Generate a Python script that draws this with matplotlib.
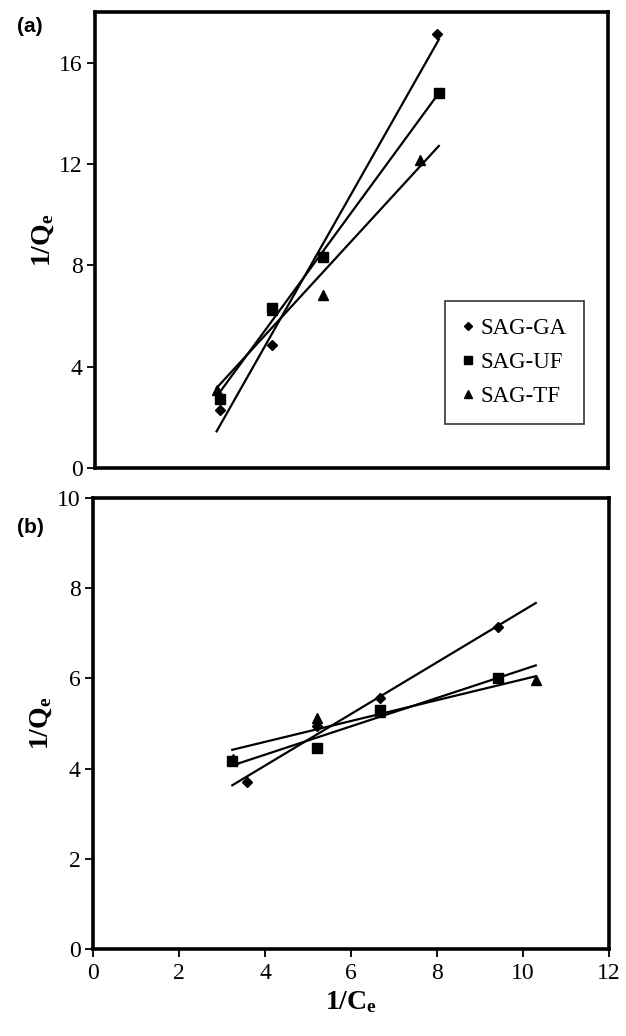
import matplotlib
matplotlib.use("Agg")
import matplotlib.pyplot as plt
import numpy as np

plt.rcParams['font.family'] = 'Liberation Serif'
plt.rcParams['mathtext.fontset'] = 'custom'
plt.rcParams['mathtext.rm'] = 'Liberation Serif'
plt.rcParams['mathtext.bf'] = 'Liberation Serif:bold'
plt.rcParams['mathtext.it'] = 'Liberation Serif:italic'

series_names = ['SAG-GA', 'SAG-UF', 'SAG-TF']
series_markers = ['D', 's', '^']
marker_sizes = [5, 6.5, 6.5]

# panel (a) readings
xa_ga = [2.91, 4.14, 5.34, 7.99]
ya_ga = [2.27, 4.84, 8.38, 17.12]
xa_uf = [2.91, 4.13, 5.34, 8.04]
ya_uf = [2.71, 6.31, 8.34, 14.79]
xa_tf = [2.84, 4.13, 5.34, 7.59]
ya_tf = [3.06, 6.25, 6.84, 12.17]

# panel (b) readings
xb_ga = [3.58, 5.21, 6.68, 9.42]
yb_ga = [3.70, 4.95, 5.57, 7.13]
xb_uf = [3.24, 5.21, 6.68, 9.42]
yb_uf = [4.17, 4.45, 5.29, 6.01]
xb_tf = [3.25, 5.21, 6.68, 10.30]
yb_tf = [4.22, 5.12, 5.25, 5.96]

ticks_a = [0, 4, 8, 12, 16]
ticks_b = [0, 2, 4, 6, 8, 10]
xticks = [0, 2, 4, 6, 8, 10, 12]

fig = plt.figure(figsize=(6.26, 10.36), dpi=100)
axa = fig.add_axes([0.152, 0.5483, 0.8195, 0.4401])
axb = fig.add_axes([0.1486, 0.084, 0.824, 0.4353])


def draw_panel(ax, xs, ys):
    allx = np.concatenate([np.array(x) for x in xs])
    xr = np.array([allx.min(), allx.max()])
    handles = []
    for x, y, m, ms, name in zip(xs, ys, series_markers, marker_sizes, series_names):
        k, b = np.polyfit(x, y, 1)
        ax.plot(xr, k * xr + b, color='black', lw=1.6, zorder=2)
        h, = ax.plot(x, y, ls='none', marker=m, ms=ms, color='black',
                     zorder=3, label=name)
        handles.append(h)
    for s in ax.spines.values():
        s.set_linewidth(2.6)
    ax.tick_params(axis='y', direction='out', length=6, width=1.3,
                   labelsize=17, pad=3)
    ax.set_xlim(0, 12)
    return handles


handles = draw_panel(axa, [xa_ga, xa_uf, xa_tf], [ya_ga, ya_uf, ya_tf])
axa.set_ylim(0, 18)
axa.set_yticks(ticks_a)
axa.set_xticks([])
axa.set_ylabel(r'$\mathbf{1/Q_e}$', fontsize=20, labelpad=2)
leg = axa.legend(handles=handles, loc='lower right', bbox_to_anchor=(0.953, 0.097),
                 borderaxespad=0, fontsize=16.5, frameon=True, fancybox=False,
                 edgecolor='black', handlelength=0.5, handletextpad=0.3,
                 labelspacing=0.55, borderpad=0.75, markerscale=0.8)
leg.get_frame().set_linewidth(1.2)

draw_panel(axb, [xb_ga, xb_uf, xb_tf], [yb_ga, yb_uf, yb_tf])
axb.set_ylim(0, 10)
axb.set_yticks(ticks_b)
axb.set_xticks(xticks)
axb.tick_params(axis='x', direction='out', length=6, width=1.3,
                labelsize=17, pad=4)
axb.set_ylabel(r'$\mathbf{1/Q_e}$', fontsize=20, labelpad=2)
axb.set_xlabel(r'$\mathbf{1/C_e}$', fontsize=20, labelpad=4)

fig.text(0.027, 0.974, '(a)', fontsize=15, fontweight='bold',
         family='Liberation Sans', va='center')
fig.text(0.027, 0.491, '(b)', fontsize=15, fontweight='bold',
         family='Liberation Sans', va='center')

fig.savefig('out.png', dpi=100)
